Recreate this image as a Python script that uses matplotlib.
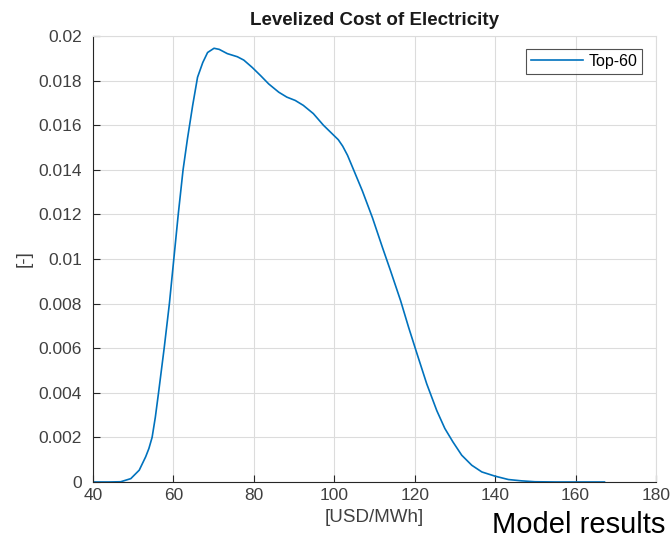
import matplotlib
matplotlib.use("Agg")
import matplotlib.pyplot as plt

plt.rcParams['font.family'] = ['Liberation Sans', 'DejaVu Sans']

# LCOE (USD/MWh) density curve
lcoe = [40, 44, 46.9, 49.4, 51.5, 53.1, 53.9, 54.7, 55.5, 56.3, 57.7, 59.0, 60.1,
        61.2, 62.4, 63.5, 64.8, 66.0, 67.3, 68.5, 70.1, 71.4, 73.4, 75.9, 77.5,
        79.6, 81.7, 83.7, 86.2, 88.2, 90.3, 92.3, 94.8, 97.3, 99.8, 101.0, 102.1,
        103.3, 104.6, 107.0, 109.5, 112.0, 114.0, 116.5, 118.5, 120.6, 123.0,
        125.5, 127.5, 129.5, 131.7, 134.2, 136.7, 140.0, 143.3, 146.6, 149.9,
        155.0, 160.0, 167.2]
density = [0.0, 0.0, 0.00001, 0.00015, 0.00053, 0.00113, 0.0015, 0.002, 0.0029,
           0.004, 0.006, 0.008, 0.010, 0.012, 0.014, 0.0154, 0.0169, 0.01815,
           0.01881, 0.01926, 0.01945, 0.0194, 0.01921, 0.01907, 0.01892, 0.01859,
           0.01822, 0.01785, 0.01748, 0.01726, 0.01711, 0.01689, 0.01652, 0.016,
           0.01556, 0.01535, 0.01506, 0.01465, 0.01409, 0.01305, 0.01185, 0.01051,
           0.00947, 0.00813, 0.00693, 0.00574, 0.0044, 0.0032, 0.0024, 0.0018,
           0.0012, 0.00075, 0.00045, 0.00026, 0.00011, 0.00005, 0.00001, 0.0, 0.0,
           0.0]

xticks = [40, 60, 80, 100, 120, 140, 160, 180]
yticks = [0, 0.002, 0.004, 0.006, 0.008, 0.01, 0.012, 0.014, 0.016, 0.018, 0.02]
ytick_labels = ['0', '0.002', '0.004', '0.006', '0.008', '0.01', '0.012', '0.014',
                '0.016', '0.018', '0.02']

fig = plt.figure(figsize=(6.7, 5.39), dpi=100)
ax = fig.add_axes([0.1388, 0.1058, 0.979 - 0.1388, 0.9332 - 0.1058])

ax.plot(lcoe, density, color='#0072BD', lw=1.2, label='Top-60',
        solid_joinstyle='round')

ax.set_xlim(40, 180)
ax.set_ylim(0, 0.02)
ax.set_xticks(xticks)
ax.set_yticks(yticks)
ax.set_yticklabels(ytick_labels)
ax.grid(True, color='#dcdcdc', lw=0.8)
ax.set_axisbelow(True)
for s in ['top', 'right']:
    ax.spines[s].set_color('#dcdcdc')
    ax.spines[s].set_linewidth(0.8)
for s in ['left', 'bottom']:
    ax.spines[s].set_color('#262626')
    ax.spines[s].set_linewidth(0.8)
ax.tick_params(direction='in', length=5, width=0.8, color='#262626',
               labelsize=12.5, labelcolor='#404040', top=False, right=False)
ax.tick_params(axis='x', pad=4)
ax.tick_params(axis='y', pad=8)

ax.set_title('Levelized Cost of Electricity', fontsize=13.5, fontweight='bold',
             color='#1a1a1a', pad=8)
ax.set_xlabel('[USD/MWh]', fontsize=13.5, color='#404040', labelpad=5)
ax.set_ylabel('[-]', fontsize=13.5, color='#404040', labelpad=4)

leg = ax.legend(loc='upper right', fontsize=11.5, frameon=True, fancybox=False,
                handlelength=3.3, handletextpad=0.3, borderpad=0.3,
                borderaxespad=0, bbox_to_anchor=(0.975, 0.971))
leg.get_frame().set_edgecolor('#262626')
leg.get_frame().set_linewidth(0.8)

fig.text(0.735, 0.012, 'Model results', fontsize=21, color='black', ha='left',
         va='baseline')

fig.savefig('out.png', dpi=100)
